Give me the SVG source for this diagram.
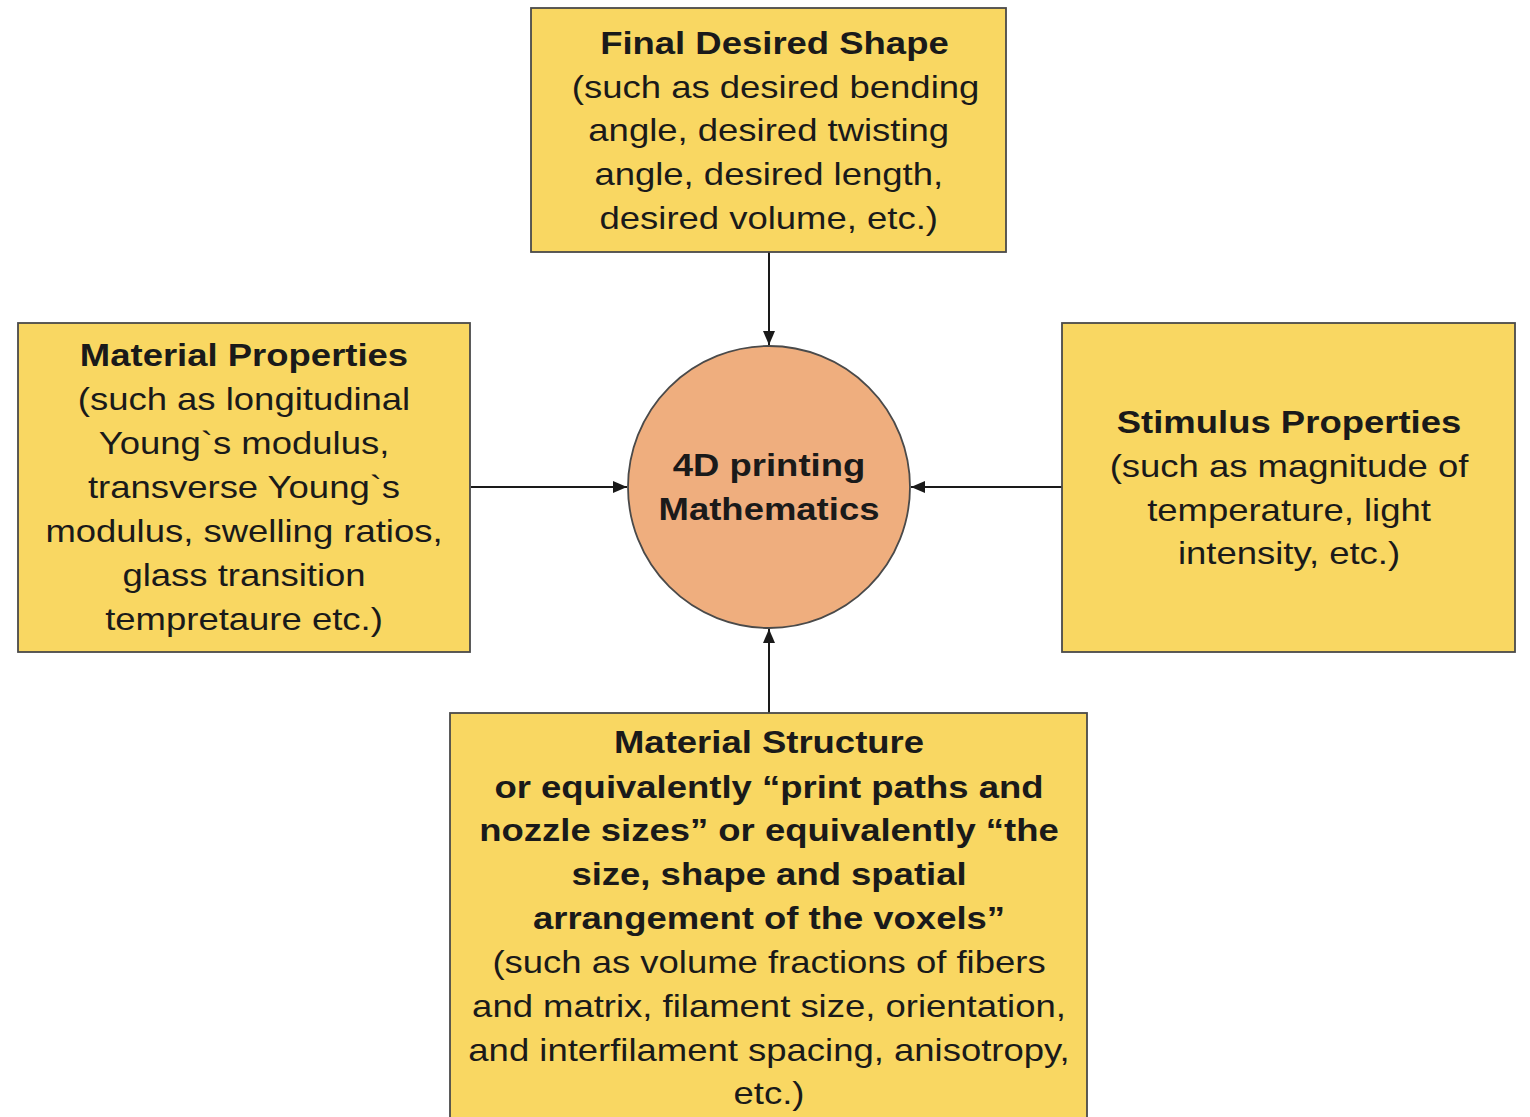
<svg xmlns="http://www.w3.org/2000/svg" width="1530" height="1117" viewBox="0 0 1530 1117">
  <style>
    .box { fill: #F9D762; stroke: #4a4a4a; stroke-width: 1.8; }
    .hub { fill: #EFAE7E; stroke: #4a4a4a; stroke-width: 1.8; }
    .t { font-family: "Liberation Sans", Arial, sans-serif; font-size: 32px; fill: #1a1a1a; text-anchor: middle; }
    .b { font-weight: bold; }
    .link { stroke: #1a1a1a; stroke-width: 2; fill: none; marker-end: url(#arrow); }
  </style>
  <defs>
    <marker id="arrow" viewBox="0 0 14 12" refX="14" refY="6" markerWidth="14" markerHeight="12" markerUnits="userSpaceOnUse" orient="auto">
      <path d="M0,0 L14,6 L0,12 z" fill="#1a1a1a"/>
    </marker>
  </defs>
  <rect width="1530" height="1117" fill="#ffffff"/>

  <g id="connectors">
    <line class="link" x1="769" y1="252" x2="769" y2="345"/>
    <line class="link" x1="471" y1="487" x2="627" y2="487"/>
    <line class="link" x1="1062" y1="487" x2="911" y2="487"/>
    <line class="link" x1="769" y1="713" x2="769" y2="629"/>
  </g>

  <!-- labels use a wide face: each label block is centred at x=0, stretched, then moved to its box centre -->
  <g id="final-shape">
    <rect class="box" x="531" y="8" width="475" height="244"/>
    <g transform="translate(771 0) scale(1.14 1)">
      <text class="t b" x="3" y="54">Final Desired Shape</text>
      <text class="t" x="4" y="98">(such as desired bending</text>
      <text class="t" x="-2" y="141">angle, desired twisting</text>
      <text class="t" x="-2" y="185">angle, desired length,</text>
      <text class="t" x="-2" y="229">desired volume, etc.)</text>
    </g>
  </g>

  <g id="material-properties">
    <rect class="box" x="18" y="323" width="452" height="329"/>
    <g transform="translate(244 0) scale(1.14 1)">
      <text class="t b" x="0" y="366">Material Properties</text>
      <text class="t" x="0" y="410">(such as longitudinal</text>
      <text class="t" x="0" y="454">Young`s modulus,</text>
      <text class="t" x="0" y="498">transverse Young`s</text>
      <text class="t" x="0" y="542">modulus, swelling ratios,</text>
      <text class="t" x="0" y="586">glass transition</text>
      <text class="t" x="0" y="630">tempretaure etc.)</text>
    </g>
  </g>

  <g id="stimulus-properties">
    <rect class="box" x="1062" y="323" width="453" height="329"/>
    <g transform="translate(1289 0) scale(1.14 1)">
      <text class="t b" x="0" y="433">Stimulus Properties</text>
      <text class="t" x="0" y="477">(such as magnitude of</text>
      <text class="t" x="0" y="521">temperature, light</text>
      <text class="t" x="0" y="564">intensity, etc.)</text>
    </g>
  </g>

  <g id="hub">
    <circle class="hub" cx="769" cy="487" r="141"/>
    <g transform="translate(769 0) scale(1.14 1)">
      <text class="t b" x="0" y="476">4D printing</text>
      <text class="t b" x="0" y="520">Mathematics</text>
    </g>
  </g>

  <g id="material-structure">
    <rect class="box" x="450" y="713" width="637" height="420"/>
    <g transform="translate(769 0) scale(1.14 1)">
      <text class="t b" x="0" y="753">Material Structure</text>
      <text class="t b" x="0" y="798">or equivalently “print paths and</text>
      <text class="t b" x="0" y="841">nozzle sizes” or equivalently “the</text>
      <text class="t b" x="0" y="885">size, shape and spatial</text>
      <text class="t b" x="0" y="929">arrangement of the voxels”</text>
      <text class="t" x="0" y="973">(such as volume fractions of fibers</text>
      <text class="t" x="0" y="1017">and matrix, filament size, orientation,</text>
      <text class="t" x="0" y="1061">and interfilament spacing, anisotropy,</text>
      <text class="t" x="0" y="1104">etc.)</text>
    </g>
  </g>
</svg>
